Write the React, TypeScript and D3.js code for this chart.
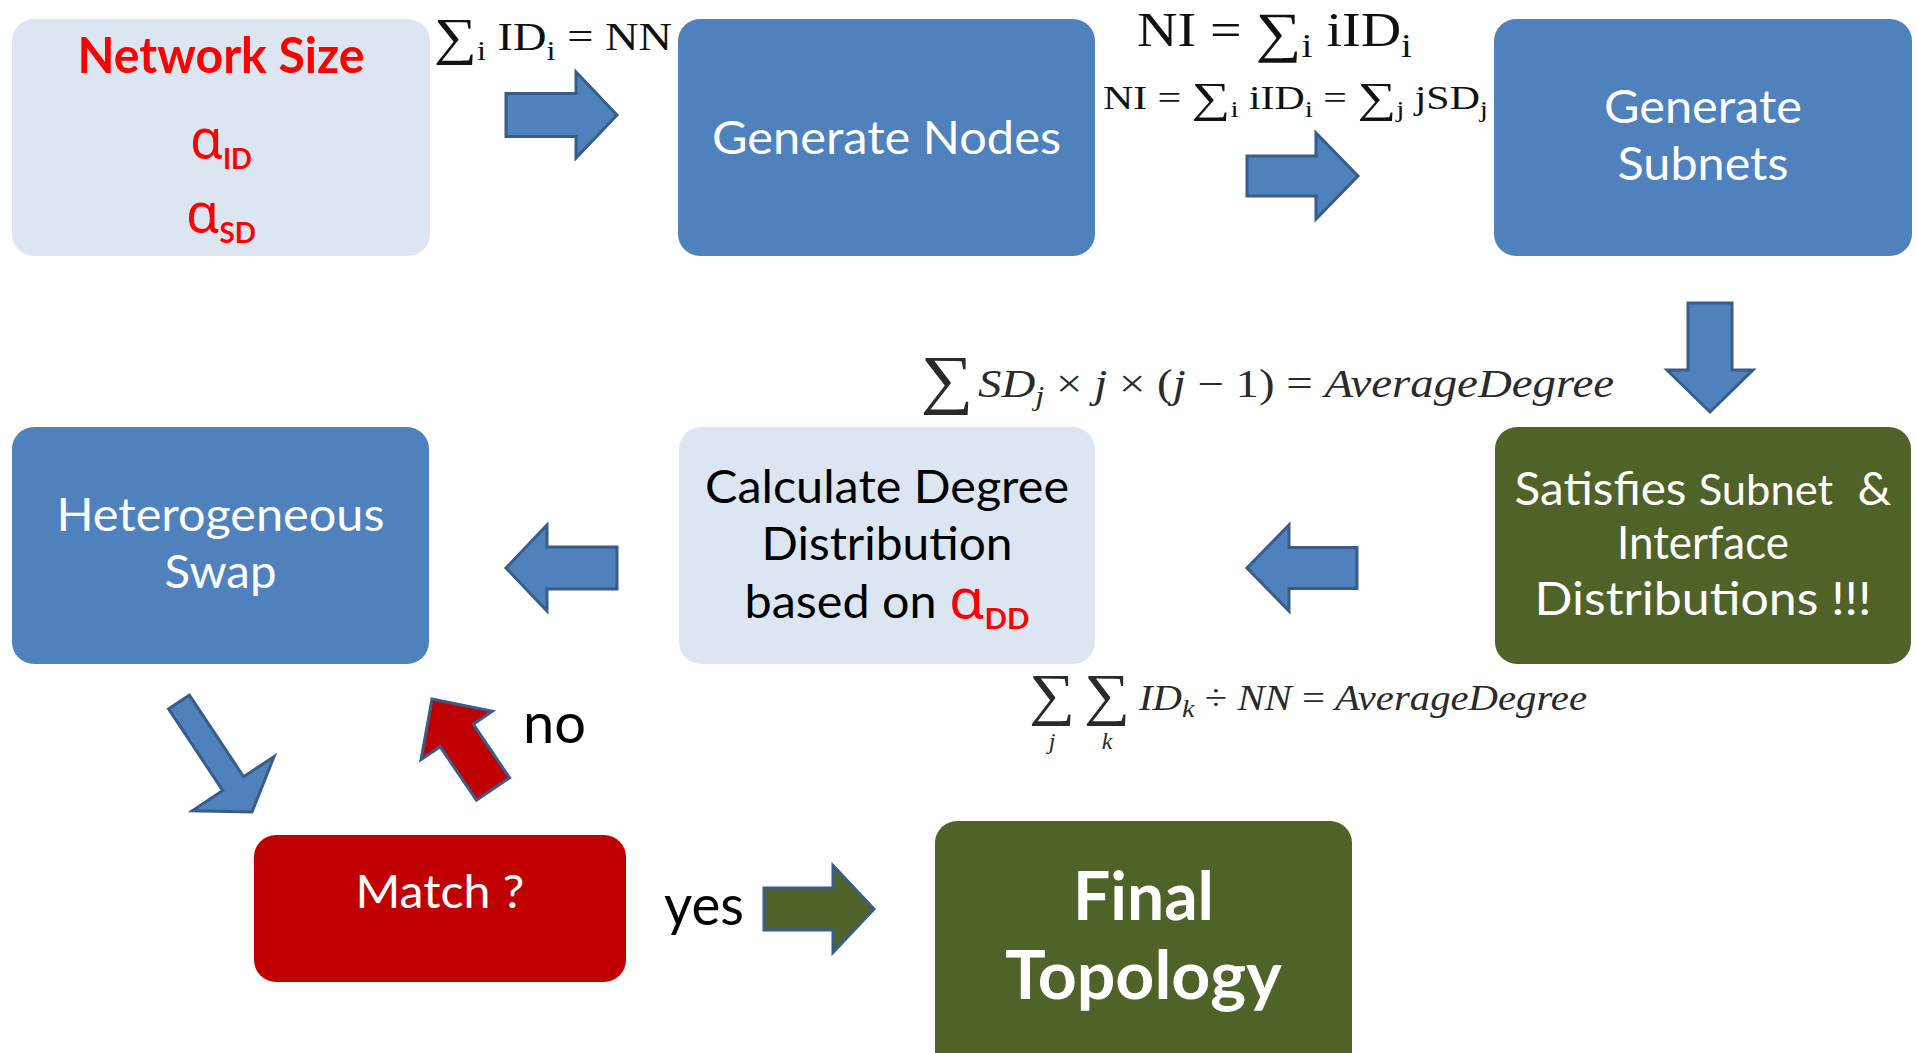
import React from "react";
import * as d3 from "d3";

// ---------------- content ----------------
type Run = { t: string; role?: string };
const R = (t: string, role = "body"): Run => ({ t, role });

const nodeIds = ["input", "nodes", "subnets", "swap", "degree", "check", "match", "final"];
const nodeKinds = ["light", "blue", "blue", "blue", "light", "green", "red", "green"];
const nodeText: Run[][][] = [
  [[R("Network Size", "title")], [R("α", "alpha"), R("ID", "alphaSub")], [R("α", "alpha"), R("SD", "alphaSub")]],
  [[R("Generate Nodes")]],
  [[R("Generate")], [R("Subnets")]],
  [[R("Heterogeneous")], [R("Swap")]],
  [[R("Calculate Degree")], [R("Distribution")], [R("based on "), R("α", "alpha"), R("DD", "alphaSub")]],
  [[R("Satisfies "), R("Subnet", "small"), R("  &")], [R("Interface")], [R("Distributions !!!")]],
  [[R("Match ?")]],
  [[R("Final", "big")], [R("Topology", "big")]],
];

const arrowIds = ["toNodes", "toSubnets", "toCheck", "toDegree", "toSwap", "toMatch", "noLoop", "yes"];
const arrowKinds = ["blue", "blue", "blue", "blue", "blue", "blue", "red", "green"];
const branchLabels = ["no", "yes"];

type MRun = { t: string; it?: boolean; sub?: boolean; op?: boolean };
const formulaSumID: MRun[] = [{ t: "∑", op: true }, { t: "i", sub: true }, { t: " ID" }, { t: "i", sub: true }, { t: " = NN" }];
const formulaNI: MRun[] = [{ t: "NI = " }, { t: "∑", op: true }, { t: "i", sub: true }, { t: " iID" }, { t: "i", sub: true }];
const formulaNISD: MRun[] = [
  { t: "NI = " }, { t: "∑", op: true }, { t: "i", sub: true }, { t: " iID" }, { t: "i", sub: true },
  { t: " = " }, { t: "∑", op: true }, { t: "j", sub: true }, { t: " jSD" }, { t: "j", sub: true },
];
const formulaAvgSD: MRun[] = [
  { t: "SD", it: true }, { t: "j", it: true, sub: true }, { t: " × " }, { t: "j", it: true },
  { t: " × (" }, { t: "j", it: true }, { t: " − 1) = " }, { t: "AverageDegree", it: true },
];
const formulaAvgID: MRun[] = [
  { t: "ID", it: true }, { t: "k", it: true, sub: true }, { t: " ÷ " }, { t: "NN", it: true },
  { t: " = " }, { t: "AverageDegree", it: true },
];
const sumLimits = ["j", "k"];

// ---------------- layout & style ----------------
const W = 1917;
const H = 1053;
const SANS = "Lato, 'Noto Sans', sans-serif";
const SERIF = "'Liberation Serif', 'DejaVu Serif', serif";

const boxLayout: Record<string, { x: number; y: number; w: number; h: number }> = {
  input: { x: 12, y: 19, w: 418, h: 237 },
  nodes: { x: 678, y: 19, w: 417, h: 237 },
  subnets: { x: 1494, y: 19, w: 418, h: 237 },
  swap: { x: 12, y: 427, w: 417, h: 237 },
  degree: { x: 679, y: 427, w: 416, h: 237 },
  check: { x: 1495, y: 427, w: 416, h: 237 },
  match: { x: 254, y: 835, w: 372, h: 147 },
  final: { x: 935, y: 821, w: 417, h: 260 },
};
const textLayout: Record<string, { base: number[]; width: number[] }> = {
  input: { base: [73, 158, 232], width: [287, 62, 70] },
  nodes: { base: [154], width: [349] },
  subnets: { base: [123, 180], width: [198, 171] },
  swap: { base: [531, 588], width: [328, 112] },
  degree: { base: [503, 560, 618], width: [364, 251, 285] },
  check: { base: [505, 559, 615], width: [377, 172, 337] },
  match: { base: [908], width: [169] },
  final: { base: [920, 999], width: [141, 277] },
};

const kindFill: Record<string, string> = {
  light: "#DCE6F2",
  blue: "#4F81BD",
  green: "#4F6228",
  red: "#C00000",
};
const kindText: Record<string, string> = {
  light: "#000000",
  blue: "#FFFFFF",
  green: "#FFFFFF",
  red: "#FFFFFF",
};
const roleStyle: Record<string, { size: number; weight?: number; family?: string; fill?: string; shift?: number }> = {
  body: { size: 46 },
  title: { size: 49, weight: 700, fill: "#FF0000" },
  alpha: { size: 54, family: "'Noto Sans', sans-serif", fill: "#FF0000" },
  alphaSub: { size: 28, weight: 700, fill: "#FF0000", shift: 11 },
  small: { size: 42 },
  big: { size: 66, weight: 700 },
};

const arrowLayout: Record<string, { tail: [number, number]; tip: [number, number]; bh: number; hh: number; hl: number }> = {
  toNodes: { tail: [506, 115], tip: [617, 115], bh: 21.5, hh: 43, hl: 41 },
  toSubnets: { tail: [1247, 176], tip: [1358, 176], bh: 20, hh: 43, hl: 42 },
  toCheck: { tail: [1710, 303], tip: [1710, 412], bh: 22, hh: 43, hl: 42 },
  toDegree: { tail: [1357, 568], tip: [1247, 568], bh: 20.5, hh: 43, hl: 42 },
  toSwap: { tail: [617, 568], tip: [506, 568], bh: 21, hh: 43, hl: 41 },
  toMatch: { tail: [179, 702], tip: [252, 812], bh: 12.5, hh: 49, hl: 34 },
  noLoop: { tail: [493, 789], tip: [432, 699], bh: 20, hh: 43, hl: 44 },
  yes: { tail: [764, 909], tip: [874, 909], bh: 21, hh: 43.5, hl: 41 },
};
const arrowFill: Record<string, string> = { blue: "#4F81BD", red: "#C00000", green: "#4F6228" };
const ARROW_STROKE = "#385D8A";

const labelLayout = [
  { x: 554.5, y: 743, w: 63 },
  { x: 704, y: 925, w: 80 },
];

const formulaLayout = [
  { runs: formulaSumID, x: 434, y: 50, size: 40, w: 238, shift: 10, op: 1.3 },
  { runs: formulaNI, x: 1137, y: 46, size: 48, w: 275, shift: 11, op: 1.15 },
  { runs: formulaNISD, x: 1103, y: 109, size: 33, w: 385, shift: 8, op: 1.3 },
  { runs: formulaAvgSD, x: 978, y: 397, size: 40, w: 636, shift: 8, op: 1 },
  { runs: formulaAvgID, x: 1139, y: 710, size: 36, w: 448, shift: 7, op: 1 },
];
const bigSums = [
  { x: 947, y: 401, size: 66, w: 53 },
  { x: 1052, y: 714, size: 58, w: 46 },
  { x: 1107, y: 714, size: 58, w: 46 },
];
const limitLayout = [
  { x: 1052, y: 749 },
  { x: 1107, y: 749 },
];

// ---------------- helpers ----------------
const lineGen = d3.line<[number, number]>();

function arrowPath(a: { tail: [number, number]; tip: [number, number]; bh: number; hh: number; hl: number }) {
  const L = Math.hypot(a.tip[0] - a.tail[0], a.tip[1] - a.tail[1]);
  const pts: [number, number][] = [
    [0, -a.bh], [L - a.hl, -a.bh], [L - a.hl, -a.hh], [L, 0],
    [L - a.hl, a.hh], [L - a.hl, a.bh], [0, a.bh],
  ];
  return lineGen(pts) + "Z";
}
function arrowAngle(a: { tail: [number, number]; tip: [number, number] }) {
  return (Math.atan2(a.tip[1] - a.tail[1], a.tip[0] - a.tail[0]) * 180) / Math.PI;
}

function RichLine({ runs, x, y, width, color }: { runs: Run[]; x: number; y: number; width: number; color: string }) {
  let cur = 0;
  return (
    <text x={x} y={y} textAnchor="middle" textLength={width} lengthAdjust="spacingAndGlyphs" style={{ whiteSpace: "pre" }}>
      {runs.map((r, i) => {
        const st = roleStyle[r.role || "body"];
        const s = st.shift || 0;
        const dy = s - cur;
        cur = s;
        return (
          <tspan key={i} dy={dy} fontSize={st.size} fontWeight={st.weight || 400}
            fontFamily={st.family || SANS} fill={st.fill || color}>
            {r.t}
          </tspan>
        );
      })}
    </text>
  );
}

function MathLine({ runs, x, y, size, w, shift, op, color }: { runs: MRun[]; x: number; y: number; size: number; w: number; shift: number; op: number; color: string }) {
  let cur = 0;
  return (
    <text x={x} y={y} fontFamily={SERIF} fill={color} textLength={w} lengthAdjust="spacingAndGlyphs" style={{ whiteSpace: "pre" }}>
      {runs.map((r, i) => {
        const s = r.sub ? shift : r.op ? size * 0.1 : 0;
        const dy = s - cur;
        cur = s;
        const fs = r.sub ? size * 0.7 : r.op ? size * op : size;
        return (
          <tspan key={i} dy={dy} fontSize={fs} fontStyle={r.it ? "italic" : "normal"}>
            {r.t}
          </tspan>
        );
      })}
    </text>
  );
}

export default function App() {
  return (
    <svg width={W} height={H} viewBox={`0 0 ${W} ${H}`}
      style={{ position: "absolute", left: 0, top: 0, background: "#FFFFFF" }}>
      <rect x={0} y={0} width={W} height={H} fill="#FFFFFF" />
      {/* boxes */}
      {nodeIds.map((id, i) => {
        const b = boxLayout[id];
        return <rect key={id} x={b.x} y={b.y} width={b.w} height={b.h} rx={22} ry={22} fill={kindFill[nodeKinds[i]]} />;
      })}
      {/* box text */}
      {nodeIds.map((id, i) => {
        const b = boxLayout[id];
        const tl = textLayout[id];
        const cx = b.x + b.w / 2;
        return (
          <g key={id + "-t"}>
            {nodeText[i].map((line, j) => (
              <RichLine key={j} runs={line} x={cx} y={tl.base[j]} width={tl.width[j]} color={kindText[nodeKinds[i]]} />
            ))}
          </g>
        );
      })}
      {/* arrows */}
      {arrowIds.map((id, i) => {
        const a = arrowLayout[id];
        return (
          <path key={id} d={arrowPath(a)}
            transform={`translate(${a.tail[0]},${a.tail[1]}) rotate(${arrowAngle(a)})`}
            fill={arrowFill[arrowKinds[i]]} stroke={ARROW_STROKE} strokeWidth={3} strokeLinejoin="miter" />
        );
      })}
      {/* branch labels */}
      {branchLabels.map((t, i) => (
        <text key={t} x={labelLayout[i].x} y={labelLayout[i].y} textAnchor="middle" fontFamily={SANS}
          fontSize={56} fill="#000" textLength={labelLayout[i].w} lengthAdjust="spacingAndGlyphs">
          {t}
        </text>
      ))}
      {/* formulas */}
      {formulaLayout.map((f, i) => (
        <MathLine key={i} runs={f.runs} x={f.x} y={f.y} size={f.size} w={f.w} shift={f.shift} op={f.op}
          color={i < 3 ? "#111111" : "#2A2A2A"} />
      ))}
      {bigSums.map((s, i) => (
        <text key={"sum" + i} x={s.x} y={s.y} textAnchor="middle" fontFamily={SERIF} fontSize={s.size} fill="#2A2A2A"
          textLength={s.w} lengthAdjust="spacingAndGlyphs">
          ∑
        </text>
      ))}
      {sumLimits.map((t, i) => (
        <text key={"lim" + i} x={limitLayout[i].x} y={limitLayout[i].y} textAnchor="middle" fontFamily={SERIF}
          fontStyle="italic" fontSize={24} fill="#2A2A2A">
          {t}
        </text>
      ))}
    </svg>
  );
}
